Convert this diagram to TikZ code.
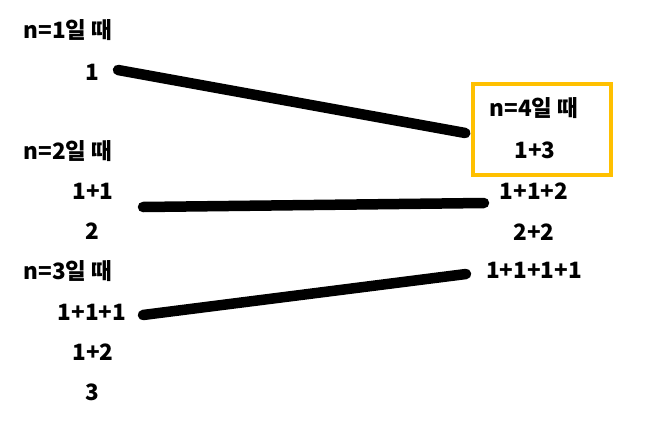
\documentclass[tikz,border=0pt]{standalone}
\usepackage{fontspec}
\setmainfont{Noto Sans CJK KR}
\usetikzlibrary{positioning}
\definecolor{casegold}{RGB}{255,192,0}

\begin{document}
\begin{tikzpicture}[
        x=1pt, y=-1pt,
        lbl/.style={font=\fontsize{22.5}{25}\selectfont\bfseries, inner sep=1pt},
        link/.style={line width=10.5pt, line cap=round},
        casebox/.style={draw=casegold, line width=3.5pt, minimum width=138pt, minimum height=91pt}
    ]
    \useasboundingbox (0,0) rectangle (656,421);

    % n=1
    \node[lbl] (head1) at (68,30) {n=1일 때};
    \node[lbl] (one) at (92,72) {1};

    % n=2
    \node[lbl] (head2) at (68,151) {n=2일 때};
    \node[lbl] (oneone) at (93,191) {1+1};
    \node[lbl] (two) at (92,231) {2};

    % n=3
    \node[lbl] (head3) at (68,271) {n=3일 때};
    \node[lbl] (oneoneone) at (92,312) {1+1+1};
    \node[lbl] (onetwo) at (93,352) {1+2};
    \node[lbl] (three) at (92,392) {3};

    % n=4
    \node[casebox] (box4) at (542,129.5) {};
    \node[lbl] (head4) at (534,108) {n=4일 때};
    \node[lbl] (onethree) at (535,150) {1+3};
    \node[lbl] (ootwo) at (534,191) {1+1+2};
    \node[lbl] (twotwo) at (534,232) {2+2};
    \node[lbl] (four) at (534,270) {1+1+1+1};

    % Links
    \draw[link] ([xshift=26pt, yshift=2pt]one.center) -- ([xshift=-6pt, yshift=-3.5pt]box4.west);
    \draw[link] ([xshift=50pt, yshift=-16pt]oneone.center) -- ([xshift=-50pt, yshift=-12pt]ootwo.center);
    \draw[link] ([xshift=51pt, yshift=-3pt]oneoneone.center) -- ([xshift=-68pt, yshift=-4pt]four.center);
\end{tikzpicture}
\end{document}
